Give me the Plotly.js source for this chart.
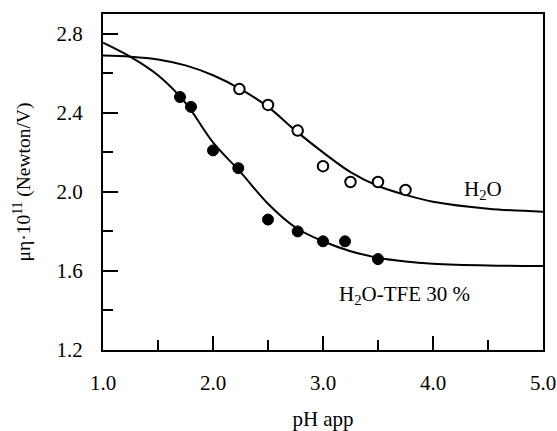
<!DOCTYPE html>
<html>
<head>
<meta charset="utf-8">
<script src="https://cdn.plot.ly/plotly-3.0.1.min.js"></script>
<style>html,body{margin:0;padding:0;background:#fff;}#chart{width:557px;height:431px;}</style>
</head>
<body>
<div id="chart"></div>
<script>
// Measured points
var h2oX = [2.24, 2.50, 2.77, 3.00, 3.25, 3.50, 3.75];
var h2oY = [2.52, 2.44, 2.31, 2.13, 2.05, 2.05, 2.01];
var tfeX = [1.70, 1.80, 2.00, 2.23, 2.50, 2.77, 3.00, 3.20, 3.50];
var tfeY = [2.48, 2.43, 2.21, 2.12, 1.86, 1.80, 1.75, 1.75, 1.66];
// Fitted curves
var curveX = [1.0, 1.25, 1.5, 1.75, 2.0, 2.25, 2.5, 2.75, 3.0, 3.25, 3.5, 3.75, 4.0, 4.5, 5.0];
var h2oCurveY = [2.69, 2.684, 2.67, 2.64, 2.59, 2.52, 2.43, 2.31, 2.20, 2.10, 2.03, 1.985, 1.95, 1.915, 1.90];
var tfeCurveY = [2.755, 2.683, 2.59, 2.45, 2.25, 2.10, 1.94, 1.82, 1.75, 1.70, 1.667, 1.648, 1.637, 1.628, 1.625];
var xTicks = [1.0, 2.0, 3.0, 4.0, 5.0];
var xTickLabels = ['1.0', '2.0', '3.0', '4.0', '5.0'];
var yTicks = [1.2, 1.6, 2.0, 2.4, 2.8];
var yTickLabels = ['1.2', '1.6', '2.0', '2.4', '2.8'];
var labelH2O = 'H<sub>2</sub>O';
var labelTFE = 'H<sub>2</sub>O-TFE 30 %';

var serif = 'Liberation Serif, Times New Roman, serif';
var traces = [
  {x: curveX, y: h2oCurveY, mode: 'lines', line: {color: '#000', width: 2, shape: 'spline', smoothing: 1}, hoverinfo: 'skip'},
  {x: curveX, y: tfeCurveY, mode: 'lines', line: {color: '#000', width: 2, shape: 'spline', smoothing: 1}, hoverinfo: 'skip'},
  {x: h2oX, y: h2oY, mode: 'markers', marker: {symbol: 'circle', size: 10.5, color: '#fff', line: {color: '#000', width: 2}}},
  {x: tfeX, y: tfeY, mode: 'markers', marker: {symbol: 'circle', size: 11, color: '#000', line: {color: '#000', width: 1}}}
];
var layout = {
  width: 557, height: 431,
  margin: {l: 103, r: 14, t: 14, b: 81},
  showlegend: false,
  paper_bgcolor: '#fff', plot_bgcolor: '#fff',
  font: {family: serif, size: 20, color: '#000'},
  xaxis: {
    range: [1.0, 5.0], tickvals: xTicks, ticktext: xTickLabels,
    ticks: 'inside', ticklen: 14, tickwidth: 2, tickcolor: '#000',
    minor: {dtick: 0.5, tick0: 1.0, ticks: 'inside', ticklen: 10, tickwidth: 2, tickcolor: '#000', showgrid: false},
    showline: true, linecolor: '#000', linewidth: 2, mirror: true,
    showgrid: false, zeroline: false, ticklabelstandoff: 13,
    tickfont: {family: serif, size: 21, color: '#000'},
    title: {text: 'pH app', font: {family: serif, size: 21, color: '#000'}, standoff: 20}
  },
  yaxis: {
    range: [1.2, 2.9], tickvals: yTicks, ticktext: yTickLabels,
    ticks: 'inside', ticklen: 15, tickwidth: 2, tickcolor: '#000',
    minor: {dtick: 0.2, tick0: 1.2, ticks: 'inside', ticklen: 10, tickwidth: 2, tickcolor: '#000', showgrid: false},
    showline: true, linecolor: '#000', linewidth: 2, mirror: true,
    showgrid: false, zeroline: false, ticklabelstandoff: 14,
    tickfont: {family: serif, size: 21, color: '#000'},
    title: {text: 'μη·10<sup>11</sup> (Newton/V)', font: {family: serif, size: 19.5, color: '#000'}, standoff: 21}
  },
  annotations: [
    {x: 4.45, y: 2.01, xref: 'x', yref: 'y', text: labelH2O, showarrow: false, font: {family: serif, size: 21, color: '#000'}},
    {x: 3.74, y: 1.48, xref: 'x', yref: 'y', text: labelTFE, showarrow: false, font: {family: serif, size: 21, color: '#000'}}
  ]
};
Plotly.newPlot('chart', traces, layout, {displayModeBar: false, staticPlot: true});
</script>
</body>
</html>
